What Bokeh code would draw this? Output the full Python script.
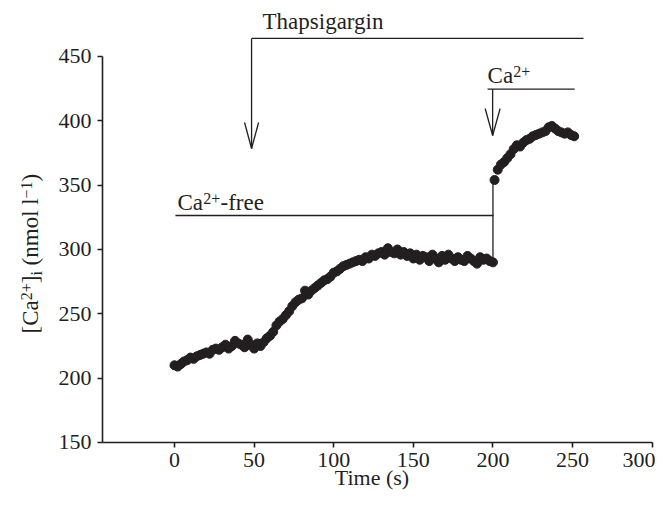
import math
from bokeh.plotting import figure
from bokeh.models import LinearAxis, Range1d, FixedTicker
from bokeh.core.properties import value
from bokeh.embed import file_html
from bokeh.resources import INLINE

# ---- data ----
time_pre = list(range(0, 201, 2))
ca_pre = [210, 209, 211, 213, 214, 216, 215, 217, 218, 219,
          220, 219, 222, 223, 222, 224, 226, 223, 225, 229,
          227, 226, 224, 230, 226, 223, 227, 225, 228, 231,
          233, 236, 241, 244, 246, 249, 252, 256, 259, 261,
          262, 268, 265, 268, 270, 272, 274, 276, 277, 279,
          282, 283, 285, 287, 288, 289, 290, 291, 292, 291,
          294, 293, 296, 295, 297, 298, 296, 301, 298, 297,
          300, 296, 298, 295, 297, 293, 296, 292, 295, 294,
          291, 296, 293, 290, 295, 292, 296, 293, 291, 294,
          292, 291, 295, 293, 291, 289, 294, 292, 293, 291,
          290]
time_post = list(range(201, 252, 2))
ca_post = [354, 362, 366, 368, 371, 374, 378, 381, 380, 383,
           385, 386, 388, 389, 390, 391, 392, 395, 396, 394,
           392, 391, 390, 391, 389, 388]

x_ticks = [0, 50, 100, 150, 200, 250, 300]
y_ticks = [150, 200, 250, 300, 350, 400, 450]

INK = "#231f20"
FONT = "Liberation Serif"

p = figure(width=655, height=492, output_backend="svg", toolbar_location=None,
           x_range=Range1d(-109.28, 302.08), y_range=Range1d(111.14, 493.5),
           x_axis_location=None, y_axis_location=None, min_border=0,
           outline_line_color=None, background_fill_color="white",
           border_fill_color="white")
p.grid.visible = False

def style_axis(ax):
    ax.axis_line_color = INK
    ax.axis_line_width = 1.6
    ax.major_tick_line_color = INK
    ax.major_tick_line_width = 1.6
    ax.major_tick_out = 5
    ax.major_tick_in = 0
    ax.minor_tick_out = 0
    ax.minor_tick_in = 0
    ax.major_label_standoff = 6
    ax.major_label_text_font = FONT
    ax.major_label_text_font_size = "22px"
    ax.major_label_text_color = INK

X_AXIS_LEFT = -45.2
xaxis = LinearAxis(fixed_location=150, bounds=(X_AXIS_LEFT, 300),
                   ticker=FixedTicker(ticks=x_ticks))
style_axis(xaxis)
p.add_layout(xaxis, "below")
yaxis = LinearAxis(fixed_location=X_AXIS_LEFT, bounds=(150, 450),
                   ticker=FixedTicker(ticks=y_ticks))
style_axis(yaxis)
p.add_layout(yaxis, "left")

# jump line at Ca2+ re-addition
p.segment(x0=[time_pre[-1]], y0=[ca_pre[-1]], x1=[time_pre[-1]], y1=[ca_post[0]],
          line_color=INK, line_width=1.3)

# data points
p.scatter(time_pre, ca_pre, size=9, color=INK)
p.scatter(time_post, ca_post, size=9, color=INK)

# baseline correction (px) for the text renderer, proportional to font size
def bshift(size):
    return 8.0 * size / 23.0

def txt(x, y, s, size, xo=0, yo=0, angle=0.0, align="left"):
    if angle == 0.0:
        yo = yo - bshift(size)
    else:
        xo = xo - bshift(size)
    p.text(x=[x], y=[y], text=[s], x_offset=xo, y_offset=yo, angle=angle,
           text_font=value(FONT), text_font_size=value(f"{size}px"),
           text_color=INK, text_align=align, text_baseline="alphabetic")

def seg(x0, y0, x1, y1):
    p.segment(x0=[x0], y0=[y0], x1=[x1], y1=[y1], line_color=INK, line_width=1.3)

def arrow(x, y_top, y_tip, y_head, hw):
    seg(x, y_top, x, y_tip)
    seg(x - hw, y_head, x, y_tip)
    seg(x + hw, y_head, x, y_tip)

# Thapsigargin annotation
txt(55.3, 471.0, "Thapsigargin", 23)
seg(48.4, 464.0, 256.9, 464.0)
arrow(48.4, 464.0, 378.5, 398.7, 4.4)

# Ca2+-free annotation
txt(1.9, 330.3, "Ca", 23)
txt(1.9, 330.3, "2+", 16, xo=25.6, yo=-6)
txt(1.9, 330.3, "-free", 23, xo=43.0)
seg(0.6, 326.4, 200.4, 326.4)

# Ca2+ annotation
txt(196.6, 429.0, "Ca", 23)
txt(196.6, 429.0, "2+", 16, xo=25.6, yo=-6)
seg(196.6, 424.6, 251.3, 424.6)
arrow(199.8, 424.6, 388.6, 409.6, 4.7)

# x axis title
txt(124.0, 116.6, "Time (s)", 22, align="center")

# y axis title (rotated, composed)
YX, YY = -85.7, 234.7
A = math.pi / 2
txt(YX, YY, "[Ca", 23, angle=A)
txt(YX, YY, "2+", 16, xo=-6, yo=-33.2, angle=A)
txt(YX, YY, "]", 23, yo=-50.2, angle=A)
txt(YX, YY, "i", 16, xo=4, yo=-57.9, angle=A)
txt(YX, YY, "(nmol l", 23, yo=-68.1, angle=A)
txt(YX, YY, "\u22121", 16, xo=-6, yo=-135.1, angle=A)
txt(YX, YY, ")", 23, yo=-152.1, angle=A)

open("out.html", "w").write(file_html(p, INLINE))
